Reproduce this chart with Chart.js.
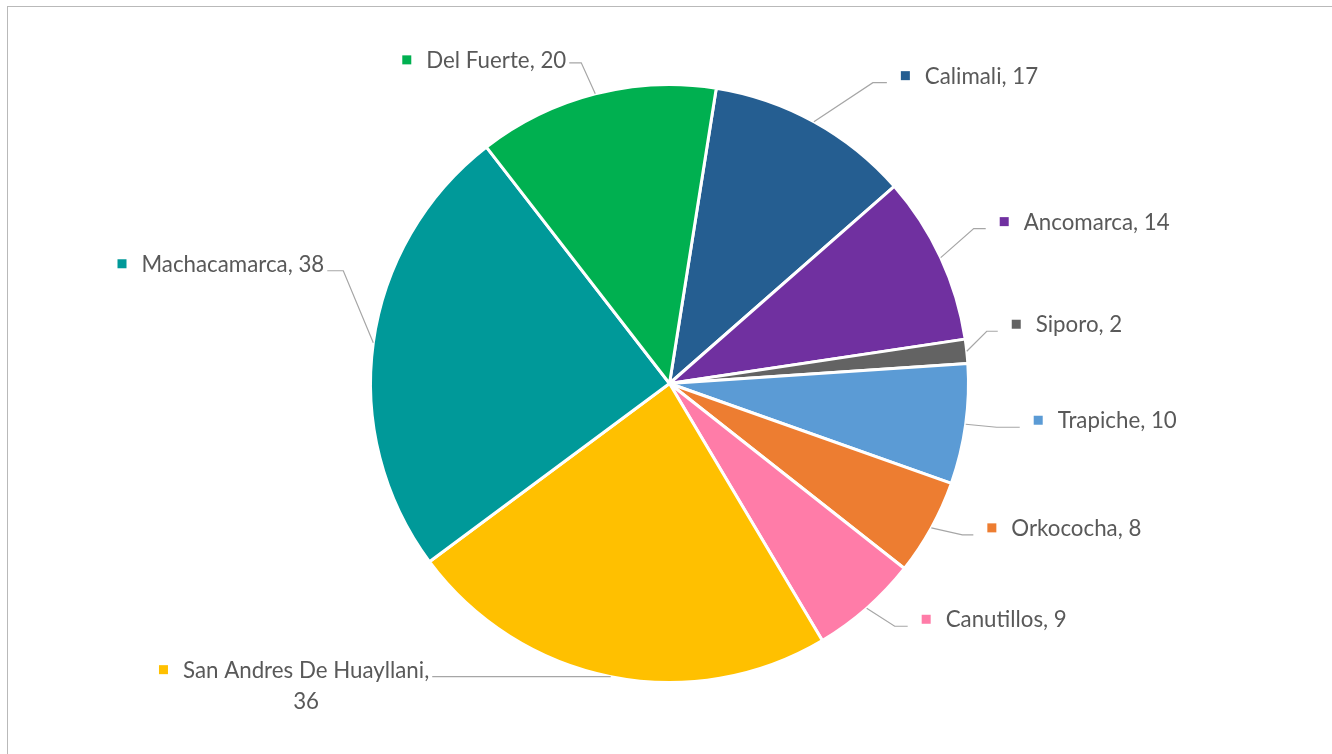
<!DOCTYPE html>
<html>
<head>
<meta charset="utf-8">
<script src="https://cdn.jsdelivr.net/npm/chart.js@4/dist/chart.umd.min.js"></script>
<style>
  html, body { margin: 0; padding: 0; background: #ffffff; overflow: hidden; }
  #wrap { position: relative; width: 1332px; height: 754px; overflow: hidden; }
  #frame { position: absolute; left: 7px; top: 6px; width: 1400px; height: 800px;
           border-top: 1.5px solid #b9b9b9; border-left: 1.5px solid #b9b9b9; }
  canvas { position: absolute; left: 0; top: 0; }
</style>
</head>
<body>
<div id="wrap">
  <div id="frame"></div>
  <canvas id="pie" width="1332" height="754"></canvas>
</div>
<script>
// Communities and their counts, clockwise from the top
const categories = ['Calimali', 'Ancomarca', 'Siporo', 'Trapiche', 'Orkococha',
                    'Canutillos', 'San Andres De Huayllani', 'Machacamarca', 'Del Fuerte'];
const values = [17, 14, 2, 10, 8, 9, 36, 38, 20];
const sliceColors = ['#255E91', '#7030A0', '#636363', '#5B9BD5', '#ED7D31',
                     '#FF7CA8', '#FFC000', '#009999', '#00B050'];

// Where each data label sits: offset of the leader's label end from the slice's
// rim point, which side of the leader the label is on, and the horizontal leg length.
const labelLayout = [
  { dx: 73,  dy: -39, side: 'right', leg: 14 },
  { dx: 45,  dy: -29, side: 'right', leg: 12 },
  { dx: 31,  dy: -20, side: 'right', leg: 11 },
  { dx: 54,  dy: 3,   side: 'right', leg: 23 },
  { dx: 42,  dy: 7,   side: 'right', leg: 11 },
  { dx: 41,  dy: 18,  side: 'right', leg: 13 },
  { dx: -178.5, dy: 0, side: 'left', leg: 178.5, wrap: true },
  { dx: -46, dy: -72, side: 'left',  leg: 16 },
  { dx: -26, dy: -31, side: 'left',  leg: 12, textDy: 4 }
];

const FONT = '22.3px Lato';
const TEXT_COLOR = '#595959';
const LEADER_COLOR = '#a6a6a6';

const outsideLabels = {
  id: 'outsideLabels',
  afterDatasetsDraw(chart) {
    const ctx = chart.ctx;
    const meta = chart.getDatasetMeta(0);
    ctx.save();
    ctx.font = FONT;
    ctx.textBaseline = 'alphabetic';
    meta.data.forEach((arc, i) => {
      const p = arc.getProps(['x', 'y', 'startAngle', 'endAngle', 'outerRadius'], true);
      const mid = (p.startAngle + p.endAngle) / 2;
      const rx = p.x + Math.cos(mid) * p.outerRadius;
      const ry = p.y + Math.sin(mid) * p.outerRadius;
      const L = labelLayout[i];
      const ax = rx + L.dx, ay = ry + L.dy;
      const ex = L.side === 'right' ? ax - L.leg : ax + L.leg;

      // leader line
      ctx.strokeStyle = LEADER_COLOR;
      ctx.lineWidth = 1.2;
      ctx.beginPath();
      ctx.moveTo(rx, ry);
      ctx.lineTo(ex, ay);
      ctx.lineTo(ax, ay);
      ctx.stroke();

      // label text lines
      const lines = L.wrap
        ? [categories[i] + ',', String(values[i])]
        : [categories[i] + ', ' + values[i]];
      const widths = lines.map(t => ctx.measureText(t).width);
      const blockW = Math.max(...widths);
      const base = ay + 1 + (L.textDy || 0);
      let left;
      if (L.side === 'right') left = ax + 38;
      else left = ax - 3 - blockW;

      ctx.fillStyle = TEXT_COLOR;
      lines.forEach((t, k) => {
        const x = left + (blockW - widths[k]) / 2;
        ctx.fillText(t, x, base + k * 31);
      });

      // legend key square
      ctx.fillStyle = sliceColors[i];
      ctx.fillRect(left - 24, base - 12.5, 9, 9);
    });
    ctx.restore();
  }
};

function draw() {
  new Chart(document.getElementById('pie'), {
    type: 'pie',
    data: {
      labels: categories,
      datasets: [{
        data: values,
        backgroundColor: sliceColors,
        borderColor: '#ffffff',
        borderWidth: 3
      }]
    },
    options: {
      responsive: false,
      animation: false,
      rotation: 9,
      radius: 299,
      layout: { padding: { top: 83, bottom: 70, left: 200, right: 193 } },
      plugins: {
        legend: { display: false },
        tooltip: { enabled: false }
      }
    },
    plugins: [outsideLabels]
  });
}

if (document.fonts && document.fonts.load) {
  document.fonts.load(FONT).then(draw, draw);
} else {
  draw();
}
</script>
</body>
</html>
